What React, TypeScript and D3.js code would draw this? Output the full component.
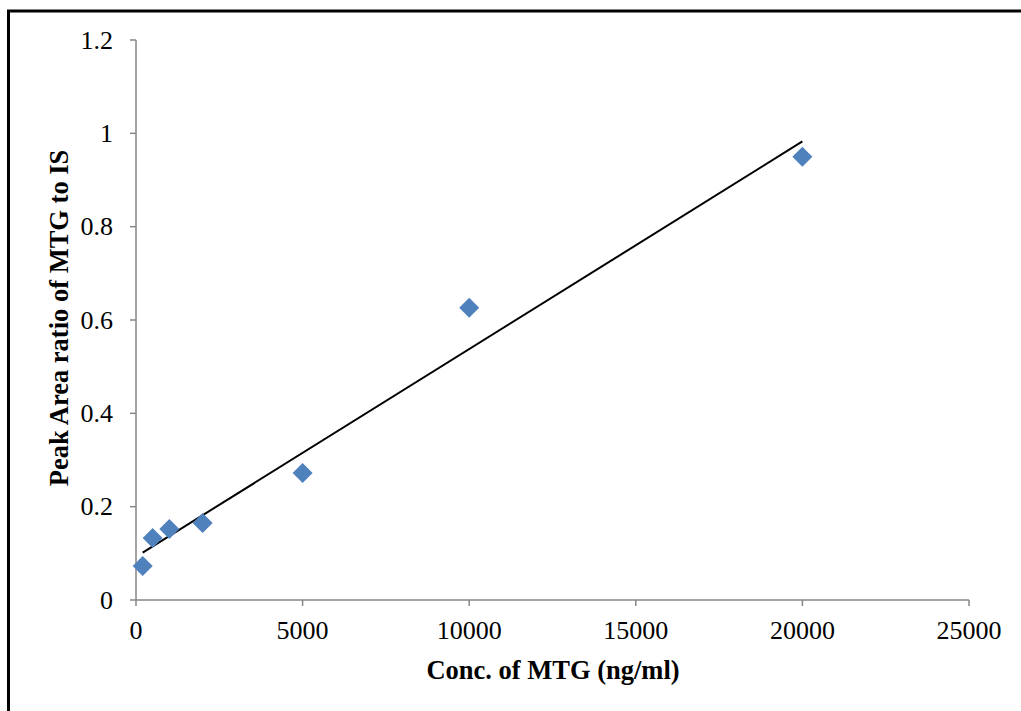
import * as d3 from "d3";

// calibration points
const conc = [200, 500, 1000, 2000, 5000, 10000, 20000];
const ratio = [0.073, 0.133, 0.152, 0.165, 0.272, 0.626, 0.95];
const xTicks = [0, 5000, 10000, 15000, 20000, 25000];
const yTicks = [0, 0.2, 0.4, 0.6, 0.8, 1, 1.2];

const W = 1021;
const H = 711;
const font = "Liberation Serif, serif";

export default function App() {
  const x = d3.scaleLinear().domain([0, 25000]).range([136, 969]);
  const y = d3.scaleLinear().domain([0, 1.2]).range([600, 40]);

  // least squares trend line
  const pts = conc.map((c, i) => [c, ratio[i]] as [number, number]);
  const mx = d3.mean(conc) ?? 0;
  const my = d3.mean(ratio) ?? 0;
  const sxy = d3.sum(pts, (p) => (p[0] - mx) * (p[1] - my));
  const sxx = d3.sum(pts, (p) => (p[0] - mx) ** 2);
  const slope = sxy / sxx;
  const icpt = my - slope * mx;
  const x0 = d3.min(conc) ?? 0;
  const x1 = d3.max(conc) ?? 0;
  const trend = d3.line<number>()
    .x((d) => x(d))
    .y((d) => y(icpt + slope * d))([x0, x1]);

  const diamond = d3.symbol(d3.symbolSquare, 200)();

  return (
    <svg
      width={W}
      height={H}
      style={{ position: "absolute", left: 0, top: 0, background: "#fff", fontFamily: font }}
    >
      <rect x={8.5} y={11} width={W + 20} height={H + 20} fill="none" stroke="#000" strokeWidth={3} />

      {/* axes */}
      <g stroke="#868686" strokeWidth={1.5} fill="none">
        <line x1={x(0)} x2={x(0)} y1={y(1.2)} y2={y(0)} />
        <line x1={x(0)} x2={x(25000)} y1={y(0)} y2={y(0)} />
        {yTicks.map((t) => (
          <line key={"y" + t} x1={x(0) - 6} x2={x(0)} y1={y(t)} y2={y(t)} />
        ))}
        {xTicks.map((t) => (
          <line key={"x" + t} x1={x(t)} x2={x(t)} y1={y(0)} y2={y(0) + 6} />
        ))}
      </g>

      <g fontSize={26} fill="#000">
        {yTicks.map((t) => (
          <text key={"yl" + t} x={113} y={y(t)} dy="0.33em" textAnchor="end">
            {String(t)}
          </text>
        ))}
        {xTicks.map((t) => (
          <text key={"xl" + t} x={x(t)} y={639} textAnchor="middle">
            {String(t)}
          </text>
        ))}
      </g>

      <path d={trend ?? ""} stroke="#000" strokeWidth={2} fill="none" />

      {conc.map((c, i) => (
        <path
          key={c}
          d={diamond ?? ""}
          transform={`translate(${x(c)},${y(ratio[i])}) rotate(45)`}
          fill="#4F81BD"
        />
      ))}

      <text x={553} y={679} textAnchor="middle" fontSize={26.5} fontWeight="bold">
        Conc. of MTG (ng/ml)
      </text>
      <text
        transform={`translate(68,${318}) rotate(-90)`}
        textAnchor="middle"
        fontSize={26.5}
        fontWeight="bold"
      >
        Peak Area ratio of MTG to IS
      </text>
    </svg>
  );
}
